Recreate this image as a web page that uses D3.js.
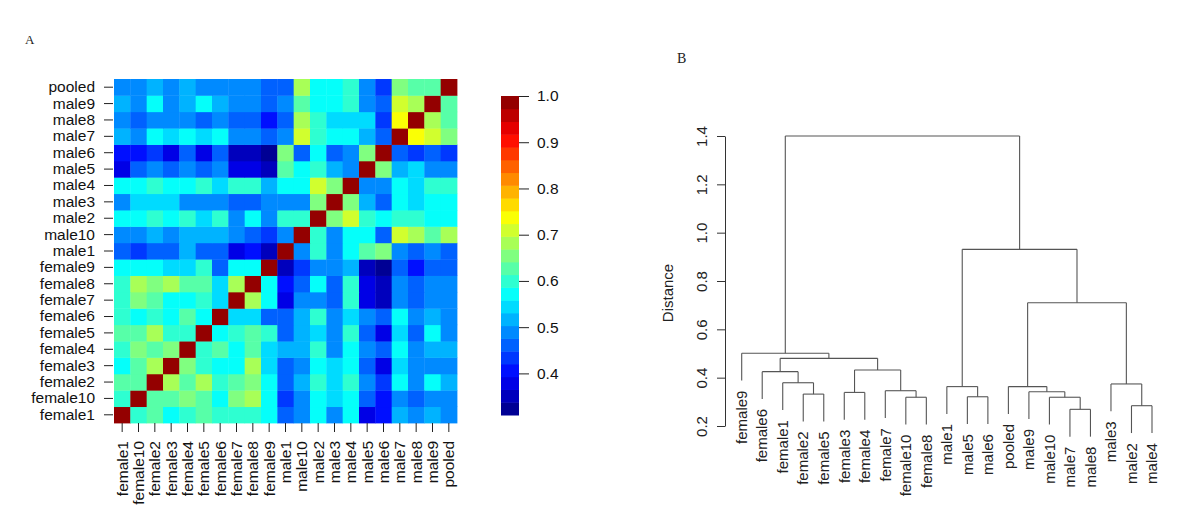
<!DOCTYPE html>
<html><head><meta charset="utf-8">
<script src="https://cdn.jsdelivr.net/npm/d3@7"></script>
<style>
body{margin:0;background:#fff}
text{font-family:"Liberation Sans",Arial,sans-serif}
text.panel{font-family:"Liberation Serif","Times New Roman",serif}
</style>
</head><body>
<svg id="chart" width="1200" height="532"></svg>
<script>
// ---------- DATA ----------
const samples = ["female1","female10","female2","female3","female4","female5","female6","female7","female8","female9",
  "male1","male10","male2","male3","male4","male5","male6","male7","male8","male9","pooled"];

// lower triangle of the correlation matrix (row i, columns 0..i-1), diagonal = 1
const corrLower = [
  [],
  [0.61],
  [0.63,0.63],
  [0.57,0.62,0.68],
  [0.61,0.65,0.62,0.65],
  [0.64,0.64,0.68,0.61,0.61],
  [0.61,0.57,0.61,0.57,0.64,0.57],
  [0.61,0.65,0.63,0.57,0.57,0.59,0.55],
  [0.61,0.68,0.65,0.69,0.63,0.63,0.55,0.69],
  [0.57,0.57,0.57,0.54,0.54,0.60,0.47,0.57,0.57],
  [0.47,0.43,0.47,0.47,0.52,0.47,0.47,0.38,0.40,0.36],
  [0.50,0.50,0.53,0.50,0.53,0.53,0.53,0.49,0.47,0.44,0.48],
  [0.57,0.57,0.61,0.57,0.61,0.54,0.61,0.50,0.57,0.48,0.60,0.60],
  [0.50,0.54,0.54,0.54,0.50,0.50,0.49,0.47,0.47,0.50,0.48,0.49,0.65],
  [0.57,0.57,0.61,0.57,0.57,0.61,0.55,0.61,0.61,0.53,0.57,0.57,0.70,0.65],
  [0.39,0.46,0.48,0.46,0.48,0.46,0.48,0.37,0.38,0.36,0.64,0.57,0.60,0.53,0.50],
  [0.40,0.40,0.43,0.39,0.45,0.39,0.45,0.34,0.35,0.32,0.65,0.47,0.57,0.46,0.50,0.66],
  [0.53,0.50,0.57,0.54,0.57,0.55,0.57,0.48,0.50,0.47,0.48,0.70,0.60,0.57,0.57,0.53,0.47],
  [0.50,0.45,0.50,0.50,0.50,0.45,0.50,0.47,0.47,0.40,0.46,0.68,0.60,0.54,0.54,0.54,0.43,0.745],
  [0.53,0.49,0.57,0.50,0.53,0.57,0.53,0.50,0.50,0.46,0.50,0.64,0.57,0.57,0.60,0.50,0.46,0.70,0.68],
  [0.49,0.49,0.53,0.49,0.53,0.50,0.50,0.50,0.50,0.46,0.46,0.68,0.57,0.57,0.60,0.50,0.43,0.66,0.64,0.64]
];
const colorDomain = [0.31, 1.0];
const colorbarTicks = [0.4,0.5,0.6,0.7,0.8,0.9,1.0];

// dendrogram
const leafOrder = ["female9","female6","female1","female2","female5","female3","female4","female7","female10","female8",
  "male1","male5","male6","pooled","male9","male10","male7","male8","male3","male2","male4"];
// merges: [left, right, height]; numbers refer to earlier merges
const merges = [
  ["female2","female5",0.332],
  ["female1",0,0.379],
  ["female6",1,0.425],
  ["female3","female4",0.339],
  ["female10","female8",0.319],
  ["female7",4,0.346],
  [3,5,0.432],
  [2,6,0.48],
  ["female9",7,0.501],
  ["male5","male6",0.321],
  ["male1",9,0.363],
  ["male7","male8",0.269],
  ["male10",11,0.319],
  ["male9",12,0.342],
  ["pooled",13,0.363],
  ["male2","male4",0.284],
  ["male3",15,0.374],
  [14,16,0.71],
  [10,17,0.931],
  [8,18,1.40]
];
const distanceTicks = [0.2,0.4,0.6,0.8,1.0,1.2,1.4];

// ---------- DRAW ----------
const svg = d3.select("#chart");
const nBands = 25;
function jet(t){
  const c = v => Math.max(0, Math.min(1, v));
  const r = c(1.5 - Math.abs(4*t - 3)), g = c(1.5 - Math.abs(4*t - 2)), b = c(1.5 - Math.abs(4*t - 1));
  return d3.rgb(r*255, g*255, b*255);
}
const tScale = d3.scaleLinear().domain(colorDomain).range([0,1]).clamp(true);
function colorOf(v){
  let k = Math.floor(tScale(v) * nBands);
  if (k >= nBands) k = nBands - 1;
  return jet((k + 0.5) / nBands);
}

// Panel A heatmap
const cells = [];
samples.forEach((r, i) => samples.forEach((c, j) => {
  const v = i === j ? 1 : (j < i ? corrLower[i][j] : corrLower[j][i]);
  cells.push({row: r, col: c, v});
}));
const hx = d3.scaleBand().domain(samples).range([114, 457]);
const hy = d3.scaleBand().domain(samples).range([423, 79]);
const gA = svg.append("g");
gA.selectAll("rect.cell").data(cells).join("rect")
  .attr("class","cell")
  .attr("x", d => hx(d.col)).attr("y", d => hy(d.row))
  .attr("width", hx.bandwidth() + 0.4).attr("height", hy.bandwidth() + 0.4)
  .attr("fill", d => colorOf(d.v));

const axL = gA.append("g").attr("transform","translate(113,0)")
  .call(d3.axisLeft(hy).tickSize(9).tickPadding(9));
axL.select(".domain").remove();
axL.selectAll("line").attr("stroke","#222");
axL.selectAll("text").attr("font-size",15.5).attr("fill","#111");

const axB = gA.append("g").attr("transform","translate(0,423)")
  .call(d3.axisBottom(hx).tickSize(9).tickPadding(0));
axB.select(".domain").remove();
axB.selectAll("line").attr("stroke","#222");
axB.selectAll("text").attr("font-size",15.5).attr("fill","#111")
  .attr("text-anchor","end").attr("transform","rotate(-90)")
  .attr("x",-18).attr("y",0).attr("dy","0.35em");

// colorbar
const cbY = d3.scaleLinear().domain(colorDomain).range([415, 96]);
const bandVals = d3.range(nBands).map(k => ({
  lo: colorDomain[0] + (colorDomain[1]-colorDomain[0]) * k / nBands,
  hi: colorDomain[0] + (colorDomain[1]-colorDomain[0]) * (k+1) / nBands,
  t: (k + 0.5) / nBands
}));
gA.selectAll("rect.cb").data(bandVals).join("rect")
  .attr("class","cb")
  .attr("x", 501).attr("width", 18)
  .attr("y", d => cbY(d.hi)).attr("height", d => cbY(d.lo) - cbY(d.hi) + 0.5)
  .attr("fill", d => jet(d.t));
const axC = gA.append("g").attr("transform","translate(519,0)")
  .call(d3.axisRight(cbY).tickValues(colorbarTicks).tickFormat(d3.format(".1f")).tickSize(10).tickPadding(8));
axC.select(".domain").remove();
axC.selectAll("line").attr("stroke","#222");
axC.selectAll("text").attr("font-size",15.5).attr("fill","#111");

svg.append("text").attr("class","panel").attr("x",25).attr("y",44).text("A")
  .attr("font-size",13).attr("fill","#222");
svg.append("text").attr("class","panel").attr("x",677).attr("y",63).text("B")
  .attr("font-size",14).attr("fill","#222");

// Panel B dendrogram
function build(ref){
  if (typeof ref === "string") return {name: ref};
  const m = merges[ref];
  return {h: m[2], children: [build(m[0]), build(m[1])]};
}
const root = d3.hierarchy(build(merges.length - 1));
const dx = d3.scalePoint().domain(leafOrder).range([741.7, 1152]);
const dy = d3.scaleLinear().domain([0.2, 1.4]).range([426, 136]);
const mh = merges.map(m => m[2]);
const hang = 0.1 * (d3.max(mh) - d3.min(mh));
root.eachAfter(n => {
  if (!n.children) { n.px = dx(n.data.name); }
  else { n.px = (n.children[0].px + n.children[1].px) / 2; n.ph = n.data.h; }
});
root.each(n => { if (!n.children) n.ph = n.parent.data.h - hang; });

const gB = svg.append("g");
const segs = [];
root.each(n => {
  if (n.children) {
    const [a, b] = n.children;
    segs.push([a.px, dy(a.ph), a.px, dy(n.ph)]);
    segs.push([a.px, dy(n.ph), b.px, dy(n.ph)]);
    segs.push([b.px, dy(n.ph), b.px, dy(b.ph)]);
  }
});
gB.selectAll("line.seg").data(segs).join("line")
  .attr("class","seg")
  .attr("x1", d => d[0]).attr("y1", d => d[1]).attr("x2", d => d[2]).attr("y2", d => d[3])
  .attr("stroke","#555").attr("stroke-width",1.1);

gB.selectAll("text.leaf").data(root.leaves()).join("text")
  .attr("class","leaf")
  .attr("transform", d => `translate(${d.px},${dy(d.ph) + 10}) rotate(-90)`)
  .attr("text-anchor","end").attr("dy","0.35em")
  .attr("font-size",15).attr("fill","#222")
  .text(d => d.data.name);

const axD = gB.append("g").attr("transform","translate(725,0)")
  .call(d3.axisLeft(dy).tickValues(distanceTicks).tickFormat(d3.format(".1f")).tickSize(8).tickSizeOuter(0));
axD.select(".domain").attr("stroke","#333");
axD.selectAll("line").attr("stroke","#333");
axD.selectAll("text").attr("font-size",15).attr("fill","#222")
  .attr("text-anchor","middle").attr("transform","rotate(-90)")
  .attr("x",0).attr("y",-23).attr("dy","0.35em");

svg.append("text").attr("transform","translate(668,293) rotate(-90)")
  .attr("text-anchor","middle").attr("dy","0.35em")
  .attr("font-size",15).attr("fill","#222").text("Distance");
</script>
</body></html>
